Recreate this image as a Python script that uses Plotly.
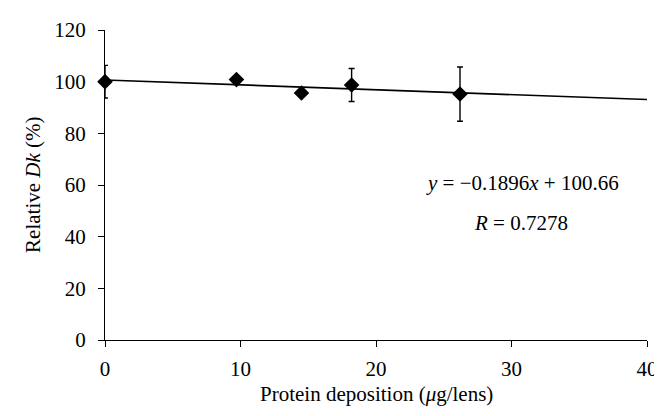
import plotly.graph_objects as go

# relative Dk vs protein deposition
deposicion = [0, 9.7, 14.5, 18.2, 26.2]
dk_relativo = [100, 100.8, 95.6, 98.7, 95.2]
error_dk = [6.3, 0, 0, 6.4, 10.5]

# linear fit shown in the figure
pendiente = -0.1896
intercepto = 100.66
x_ajuste = [0, 40]
y_ajuste = [intercepto + pendiente * x for x in x_ajuste]

FUENTE = "Liberation Serif"
TAM = 21

fig = go.Figure()
fig.add_trace(go.Scatter(
    x=x_ajuste, y=y_ajuste, mode="lines",
    line=dict(color="black", width=1.6), showlegend=False, hoverinfo="skip",
))
fig.add_trace(go.Scatter(
    x=deposicion, y=dk_relativo, mode="markers",
    marker=dict(symbol="diamond", size=12, color="black"),
    error_y=dict(type="data", array=error_dk, visible=True,
                 color="black", thickness=1.4, width=3),
    showlegend=False,
))

fig.add_annotation(
    x=30.8, y=60.7, xref="x", yref="y", showarrow=False,
    text="<i>y</i> = −0.1896<i>x</i> + 100.66",
    font=dict(family=FUENTE, size=TAM, color="black"),
)
fig.add_annotation(
    x=30.7, y=45.2, xref="x", yref="y", showarrow=False,
    text="<i>R</i> = 0.7278",
    font=dict(family=FUENTE, size=TAM, color="black"),
)
# axis titles placed as annotations so they sit where the original has them
fig.add_annotation(
    x=0.5, y=-0.175, xref="paper", yref="paper", showarrow=False,
    xanchor="center", yanchor="middle",
    text="Protein deposition (<i>μ</i>g/lens)",
    font=dict(family=FUENTE, size=TAM, color="black"),
)
fig.add_annotation(
    x=-0.133, y=0.5, xref="paper", yref="paper", showarrow=False, textangle=-90,
    xanchor="center", yanchor="middle",
    text="Relative <i>Dk</i> (%)",
    font=dict(family=FUENTE, size=TAM, color="black"),
)

eje = dict(
    showgrid=False, zeroline=False, showline=True, linecolor="black", linewidth=1.3,
    ticks="outside", ticklen=6, tickwidth=1.3, tickcolor="black", automargin=False,
    tickfont=dict(family=FUENTE, size=TAM, color="black"),
)
fig.update_layout(
    width=662, height=416,
    margin=dict(l=97, r=23, t=22, b=84),
    plot_bgcolor="white", paper_bgcolor="white",
    xaxis=dict(eje, range=[0, 40], dtick=10, ticklabelstandoff=4),
    yaxis=dict(eje, range=[0, 120], dtick=20, ticklabelstandoff=8),
)
fig.update_traces(cliponaxis=False)

fig.write_html("out.html")
